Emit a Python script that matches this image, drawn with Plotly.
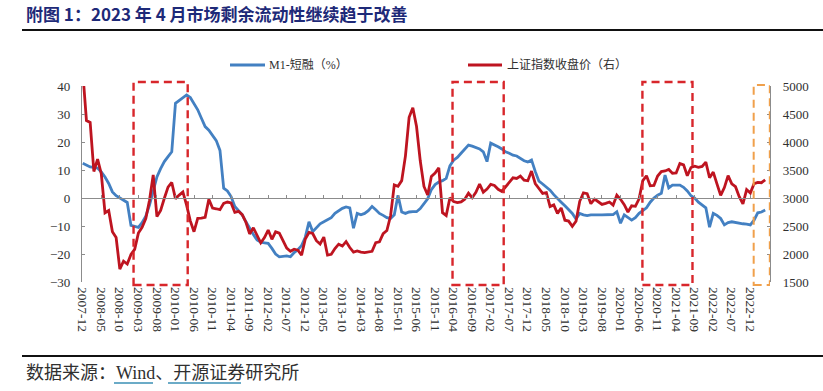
import plotly.graph_objects as go
import pandas as pd

# ---------------- data ----------------
months = [p.strftime("%Y-%m") for p in pd.period_range("2007-12", "2023-04", freq="M")]

m1_minus_short = [
    12.4, 11.8, 11.1, 10.9, 10.7, 9.3, 7.5, 5.2, 2.2, 0.8, 0.0, -0.8,          # 2007-12 .. 2008-11
    -1.6, -9.8, -10.2, -10.5, -8.8, -6.5, -2.5, 2.5, 7.5, 10.5, 13.0, 14.8,    # 2008-12 .. 2009-11
    16.5, 33.8, 34.8, 35.8, 36.8, 35.9, 33.5, 31.5, 28.5, 25.5, 24.2, 22.5,    # 2009-12 .. 2010-11
    20.5, 17.0, 3.5, 2.5, 0.5, -3.0, -4.5, -6.0, -8.5, -11.0, -13.0, -15.0,    # 2010-12 .. 2011-11
    -15.8, -16.0, -16.2, -18.0, -20.0, -21.0, -20.8, -20.7, -21.0, -19.5, -18.5, -17.0,  # 2011-12 .. 2012-11
    -14.0, -8.5, -12.0, -10.5, -9.2, -8.5, -7.6, -7.0, -5.5, -4.5, -3.7, -3.2,  # 2012-12 .. 2013-11
    -3.5, -10.8, -5.5, -6.0, -5.5, -4.5, -3.0, -4.2, -5.5, -6.2, -7.0, -7.3,    # 2013-12 .. 2014-11
    -6.0, 1.0, -5.0, -5.5, -5.0, -4.9, -4.9, -3.8, -2.0, -0.3, 3.0, 4.8,        # 2014-12 .. 2015-11
    5.7, 6.2, 7.0, 11.5, 13.5, 14.5, 16.0, 17.5, 18.9, 18.5, 17.9, 17.5,        # 2015-12 .. 2016-11
    16.5, 13.0, 19.6, 19.0, 18.3, 17.5, 16.5, 16.0, 15.3, 15.0, 14.2, 13.3,     # 2016-12 .. 2017-11
    12.9, 13.6, 9.5, 6.0, 5.0, 4.0, 2.8, 1.2, 0.0, -1.5, -2.8, -4.0,            # 2017-12 .. 2018-11
    -5.5, -7.5, -5.5, -6.0, -6.3, -6.0, -5.9, -6.0, -6.0, -6.0, -6.0, -5.9,     # 2018-12 .. 2019-11
    -4.9, -9.0, -6.0, -7.0, -7.9, -7.0, -5.5, -4.5, -3.5, -1.5, 0.0, 1.0,       # 2019-12 .. 2020-11
    1.7, 8.2, 3.6, 4.6, 4.6, 4.6, 3.8, 2.5, 0.8, 0.0, -1.5, -2.5,               # 2020-12 .. 2021-11
    -3.5, -10.4, -5.5, -6.2, -7.3, -9.6, -8.8, -8.5, -8.8, -9.0, -9.2, -9.3,    # 2021-12 .. 2022-11
    -9.6, -7.9, -5.3, -5.0, -4.3,                                               # 2022-12 .. 2023-04
]

sse_close = [
    5262, 4383, 4349, 3473, 3693, 3433, 2736, 2776, 2397, 2294, 1729, 1871,
    1821, 1991, 2083, 2373, 2478, 2633, 2959, 3412, 2668, 2779, 2996, 3195,
    3277, 2989, 3052, 3109, 2871, 2592, 2398, 2638, 2639, 2656, 2979, 2820,
    2808, 2791, 2905, 2928, 2912, 2743, 2762, 2702, 2567, 2359, 2468, 2333,
    2199, 2293, 2428, 2263, 2396, 2372, 2225, 2104, 2048, 2086, 2069, 1980,
    2269, 2385, 2366, 2237, 2178, 2301, 1979, 1994, 2098, 2175, 2142, 2221,
    2116, 2033, 2056, 2033, 2026, 2039, 2048, 2202, 2217, 2364, 2420, 2683,
    3235, 3210, 3310, 3748, 4442, 4612, 4277, 3664, 3206, 3053, 3383, 3445,
    3539, 2738, 2688, 3004, 2938, 2917, 2930, 2979, 3085, 3005, 3100, 3250,
    3104, 3159, 3242, 3223, 3155, 3117, 3192, 3273, 3361, 3349, 3393, 3317,
    3307, 3481, 3259, 3169, 3082, 3095, 2847, 2876, 2725, 2821, 2603, 2588,
    2494, 2585, 2941, 3091, 3078, 2899, 2979, 2933, 2886, 2905, 2929, 2872,
    3050, 2977, 2880, 2750, 2860, 2852, 2985, 3310, 3396, 3218, 3225, 3392,
    3473, 3483, 3509, 3442, 3447, 3615, 3591, 3397, 3544, 3568, 3547, 3564,
    3640, 3361, 3462, 3252, 3047, 3186, 3399, 3253, 3202, 3024, 2893, 3151,
    3089, 3256, 3280, 3273, 3323,
]

series_names = ["M1-短融（%）", "上证指数收盘价（右）"]
tick_every = 5
tick_idx = list(range(0, len(months), tick_every))
tick_labels = [months[i] for i in tick_idx]

left_range = [-30, 40]
right_range = [1500, 5000]

# highlighted periods (month-index spans)
red_boxes = [(13.7, 28.3), (99.7, 113.5), (150.9, 164.4)]
orange_boxes = [(180.9, 185.25)]

assert len(months) == len(m1_minus_short) == len(sse_close)

# ---------------- style ----------------
BLUE = "#4380C2"
RED = "#BE1420"
AXIS = "#8C8C8C"
TXT = "#303030"
SERIF = "Liberation Serif, Noto Sans CJK SC, serif"
CJK = "Noto Sans CJK SC, sans-serif"

W, H = 823, 391
L, R, T, B = 82, 53, 86, 109
pw, ph = W - L - R, H - T - B


def px2x(px):
    return (px - L) / pw


def py2y(py):
    return (H - B - py) / ph


x = list(range(len(months)))
xr = [-0.2, 185.3]

fig = go.Figure()
fig.add_trace(go.Scatter(x=x, y=m1_minus_short, mode="lines", name=series_names[0],
                         line=dict(color=BLUE, width=2.8), yaxis="y", showlegend=False))
fig.add_trace(go.Scatter(x=x, y=sse_close, mode="lines", name=series_names[1],
                         line=dict(color=RED, width=2.8), yaxis="y2", showlegend=False))
# invisible trace to host the zero-crossing category axis
fig.add_trace(go.Scatter(x=[x[0]], y=[0], xaxis="x2", yaxis="y", mode="markers",
                         marker=dict(opacity=0), showlegend=False, hoverinfo="skip"))

shapes = []
for (a, b) in red_boxes:
    shapes.append(dict(type="rect", xref="x", yref="paper", x0=a, x1=b,
                       y0=py2y(285), y1=py2y(82),
                       line=dict(color="#D8262B", width=2.4, dash="8px,5px"),
                       fillcolor="rgba(0,0,0,0)", layer="above"))
for (a, b) in orange_boxes:
    shapes.append(dict(type="rect", xref="x", yref="paper", x0=a, x1=b,
                       y0=py2y(285), y1=py2y(85),
                       line=dict(color="#F0A04B", width=2.0, dash="8px,5px"),
                       fillcolor="rgba(0,0,0,0)", layer="above"))

# header / footer rules
shapes.append(dict(type="line", xref="paper", yref="paper", x0=px2x(22), x1=px2x(823),
                   y0=py2y(30), y1=py2y(30), line=dict(color="#111111", width=2.2)))
shapes.append(dict(type="line", xref="paper", yref="paper", x0=px2x(22), x1=px2x(823),
                   y0=py2y(356), y1=py2y(356), line=dict(color="#111111", width=2.2)))

# manual legend samples
shapes.append(dict(type="line", xref="paper", yref="paper", x0=px2x(230), x1=px2x(265),
                   y0=py2y(65), y1=py2y(65), line=dict(color=BLUE, width=3)))
shapes.append(dict(type="line", xref="paper", yref="paper", x0=px2x(468), x1=px2x(502),
                   y0=py2y(65), y1=py2y(65), line=dict(color=RED, width=3)))

# footer hyperlink-style underlines
for (a, b) in [(114, 153), (168, 241)]:
    shapes.append(dict(type="line", xref="paper", yref="paper", x0=px2x(a), x1=px2x(b),
                       y0=py2y(383), y1=py2y(383), line=dict(color="#3A8FB5", width=1.3)))

footer_text = "数据来源：Wind、开源证券研究所"

annotations = [
    dict(text="<b>附图 1：2023 年 4 月市场剩余流动性继续趋于改善</b>", xref="paper", yref="paper",
         x=px2x(24), y=py2y(13), xanchor="left", yanchor="middle", showarrow=False,
         font=dict(family=CJK, size=17, color="#1E2A78")),
    dict(text=series_names[0], xref="paper", yref="paper", x=px2x(267), y=py2y(65),
         xanchor="left", yanchor="middle", showarrow=False,
         font=dict(family=SERIF, size=12, color=TXT)),
    dict(text=series_names[1], xref="paper", yref="paper", x=px2x(505), y=py2y(65),
         xanchor="left", yanchor="middle", showarrow=False,
         font=dict(family=SERIF, size=12, color=TXT)),
    dict(text=footer_text, xref="paper", yref="paper", x=px2x(24), y=py2y(373),
         xanchor="left", yanchor="middle", showarrow=False,
         font=dict(family=SERIF, size=18, color=TXT)),
]

fig.update_layout(
    width=W, height=H,
    margin=dict(l=L, r=R, t=T, b=B, pad=0),
    paper_bgcolor="white", plot_bgcolor="white",
    showlegend=False,
    shapes=shapes, annotations=annotations,
    xaxis=dict(range=xr, tickmode="array", tickvals=tick_idx, ticktext=tick_labels,
               tickangle=90, showline=False, showgrid=False, zeroline=False, ticks="",
               tickfont=dict(family=SERIF, size=13.5, color=TXT), ticklabelstandoff=4),
    xaxis2=dict(range=xr, overlaying="x", anchor="free",
                position=(0 - left_range[0]) / (left_range[1] - left_range[0]),
                tickmode="array", tickvals=tick_idx, showticklabels=False,
                showline=True, linecolor=AXIS, linewidth=1.2, ticks="inside", ticklen=3,
                tickcolor=AXIS, tickwidth=1, showgrid=False, zeroline=False),
    yaxis=dict(range=left_range, dtick=10, tick0=-30, showgrid=False, zeroline=False,
               showline=True, linecolor=AXIS, linewidth=1.2, ticks="inside", ticklen=3,
               tickcolor=AXIS, tickfont=dict(family=SERIF, size=13, color=TXT),
               ticklabelstandoff=8),
    yaxis2=dict(range=right_range, dtick=500, tick0=1500, overlaying="y", side="right",
                showgrid=False, zeroline=False, showline=True, linecolor=AXIS, linewidth=1.2,
                ticks="inside", ticklen=3, tickcolor=AXIS,
                tickfont=dict(family=SERIF, size=13, color=TXT), ticklabelstandoff=9),
)

fig.write_html("out.html", config={"displayModeBar": False},
               post_script="document.body.style.margin='0';document.body.style.padding='0';"
                           "document.documentElement.style.overflow='hidden';")
